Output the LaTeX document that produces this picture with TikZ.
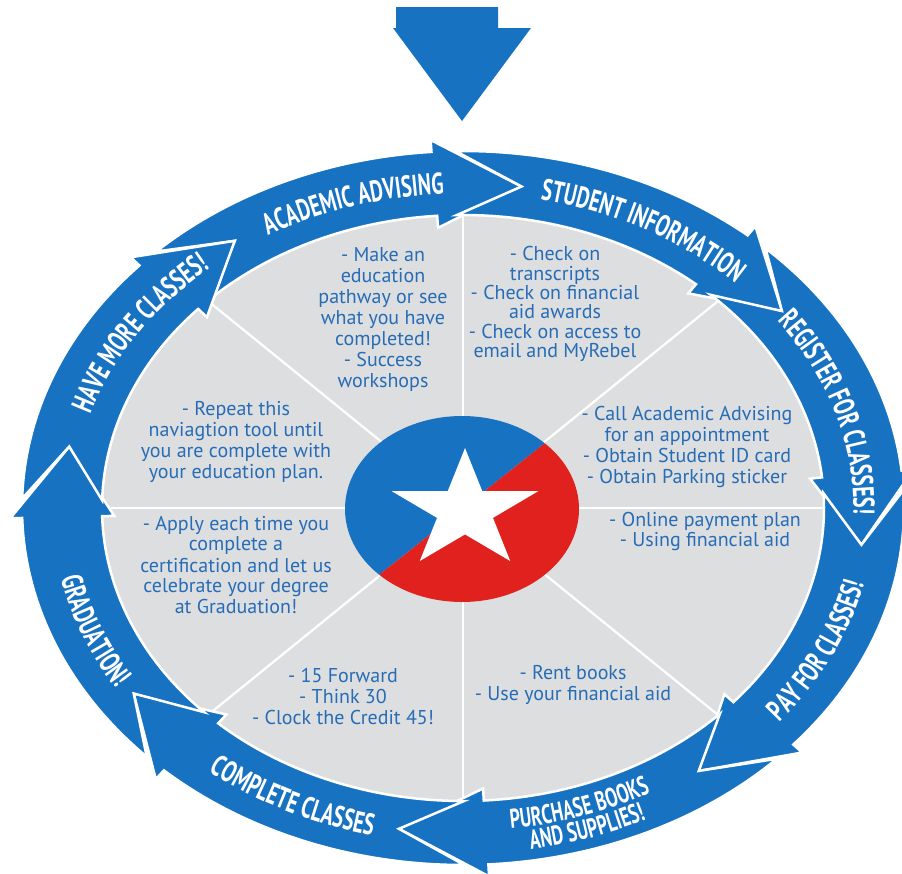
\documentclass[tikz,border=0pt]{standalone}
\usepackage{fontspec}
\setmainfont{PT Sans}
\newfontfamily\bodyfont{PT Sans}
\newfontfamily\labelfont[FakeStretch=0.67]{PT Sans}
\usetikzlibrary{decorations.text}
\definecolor{ringblue}{RGB}{23,114,194}
\definecolor{txtblue}{RGB}{38,108,182}
\definecolor{starred}{RGB}{224,33,29}
\definecolor{panelgray}{RGB}{221,222,223}
\def\orx{441pt}\def\ory{357pt}
\def\irx{361pt}\def\iry{293pt}
\def\mrx{401pt}\def\mry{325pt}
\def\brx{453pt}\def\bry{369pt}
\def\crx{349pt}\def\cry{281pt}
\def\hl{12.5}
\newcommand\ringarrow[2]{%
  \pgfmathsetmacro\ta{#1+0.75*\hl}%
  \pgfmathsetmacro\hb{#2+\hl}%
  \filldraw[arrowseg] (#1:{\mrx} and {\mry}) -- (\ta:{\orx} and {\ory})
    arc[start angle=\ta, end angle=\hb, x radius=\orx, y radius=\ory]
    -- (\hb:{\brx} and {\bry}) -- (#2:{\mrx} and {\mry}) -- (\hb:{\crx} and {\cry})
    -- (\hb:{\irx} and {\iry})
    arc[start angle=\hb, end angle=\ta, x radius=\irx, y radius=\iry] -- cycle;
}
% clockwise label (letter tops outward), baseline ellipse inside the band middle
\newcommand\cwlabel[2]{%
  \pgfmathsetmacro\sa{#1+40}\pgfmathsetmacro\ea{#1-40}%
  \path[decorate,decoration={text along path,text align=center,
    text color=white,text={|\labelfont\bfseries\fontsize{30}{30}\selectfont|#2}}]
    (\sa:390.5pt and 314.5pt) arc[start angle=\sa,end angle=\ea,x radius=390.5pt,y radius=314.5pt];
}
% counter-clockwise label (letter tops inward): #3,#4 = baseline radii, #5 = size
\newcommand\ccwlabel[5]{%
  \pgfmathsetmacro\sa{#1-40}\pgfmathsetmacro\ea{#1+40}%
  \path[decorate,decoration={text along path,text align=center,
    text color=white,text={|\labelfont\bfseries\fontsize{#5}{#5}\selectfont|#2}}]
    (\sa:#3 and #4) arc[start angle=\sa,end angle=\ea,x radius=#3,y radius=#4];
}
\tikzset{
  arrowseg/.style={fill=ringblue,draw=white,line width=2.5pt,line join=miter},
  divider/.style={draw=white,line width=2.2pt},
  bodytxt/.style={text=txtblue,align=center,font=\bodyfont\fontsize{20}{21}\selectfont,inner sep=0pt},
}
\begin{document}
\begin{tikzpicture}[x=1pt,y=1pt]
\useasboundingbox (0,0) rectangle (902,-873);
% top entry arrow
\fill[ringblue] (396,-7) -- (498,-7) -- (498,-28) -- (531,-28) -- (462,-121) -- (393,-28) -- (396,-28) -- cycle;
\begin{scope}[shift={(463,-508)}]
  \fill[panelgray] (0,0) ellipse [x radius=\irx, y radius=\iry];
  \foreach \a in {0,45,...,315} \draw[divider] (0,0) -- (\a:{\irx} and {\iry});
  \ringarrow{124.7}{81.6}
  \ringarrow{81.6}{37.3}
  \ringarrow{37.3}{-6.5}
  \ringarrow{-6.5}{-54}
  \ringarrow{-54}{-99.2}
  \ringarrow{-99.2}{-145.2}
  \ringarrow{-145.2}{-190.9}
  \ringarrow{-190.9}{-235.3}
  \cwlabel{107.5}{ACADEMIC ADVISING}
  \cwlabel{60.5}{STUDENT INFORMATION}
  \cwlabel{16.5}{REGISTER FOR CLASSES!}
  \ccwlabel{-24.6}{PAY FOR CLASSES!}{411.5pt}{335.5pt}{30}
  \ccwlabel{-117}{COMPLETE CLASSES}{411.5pt}{335.5pt}{30}
  \ccwlabel{-159.3}{GRADUATION!}{411.5pt}{335.5pt}{30}
  \cwlabel{148.5}{HAVE MORE CLASSES!}
  \ccwlabel{-71.3}{PURCHASE BOOKS}{399pt}{323pt}{27}
  \ccwlabel{-71.3}{AND SUPPLIES!}{422pt}{346pt}{27}
\end{scope}
% centre emblem
\begin{scope}[shift={(462,-509)}]
  \fill[ringblue] (45:117pt and 93pt) arc[start angle=45,end angle=225,x radius=117pt,y radius=93pt] -- cycle;
  \fill[starred] (225:117pt and 93pt) arc[start angle=225,end angle=405,x radius=117pt,y radius=93pt] -- cycle;
\end{scope}
\begin{scope}[shift={(465,-510.5)}]
  \fill[white] (90:77pt and 62.5pt) -- (126:29.4pt and 23.9pt) -- (162:77pt and 62.5pt)
    -- (198:29.4pt and 23.9pt) -- (234:77pt and 62.5pt) -- (270:29.4pt and 23.9pt)
    -- (306:77pt and 62.5pt) -- (342:29.4pt and 23.9pt) -- (18:77pt and 62.5pt)
    -- (54:29.4pt and 23.9pt) -- cycle;
\end{scope}
% sector texts
\node[bodytxt] (acad) at (383,-319.5) {- Make an\\education\\pathway or see\\what you have\\completed!\\- Success\\workshops};
\node[bodytxt,font=\bodyfont\fontsize{20}{19.3}\selectfont] (stud) at (555,-304) {- Check on\\transcripts\\- Check on financial\\aid awards\\- Check on access to\\email and MyRebel};
\node[bodytxt,font=\bodyfont\fontsize{20}{20.7}\selectfont] (reg) at (687,-447) {- Call Academic Advising\\for an appointment\\- Obtain Student ID card\\- Obtain Parking sticker};
\node[bodytxt,font=\bodyfont\fontsize{20}{20}\selectfont] (pay) at (705,-531) {- Online payment plan\\- Using financial aid};
\node[bodytxt] (purch) at (573,-684.5) {- Rent books\\- Use your financial aid};
\node[bodytxt] (compl) at (343,-696) {- 15 Forward\\- Think 30\\- Clock the Credit 45!};
\node[bodytxt] (grad) at (236,-565) {- Apply each time you\\complete a\\certification and let us\\celebrate your degree\\at Graduation!};
\node[bodytxt] (more) at (236,-441.5) {- Repeat this\\naviagtion tool until\\you are complete with\\your education plan.};
\end{tikzpicture}
\end{document}
